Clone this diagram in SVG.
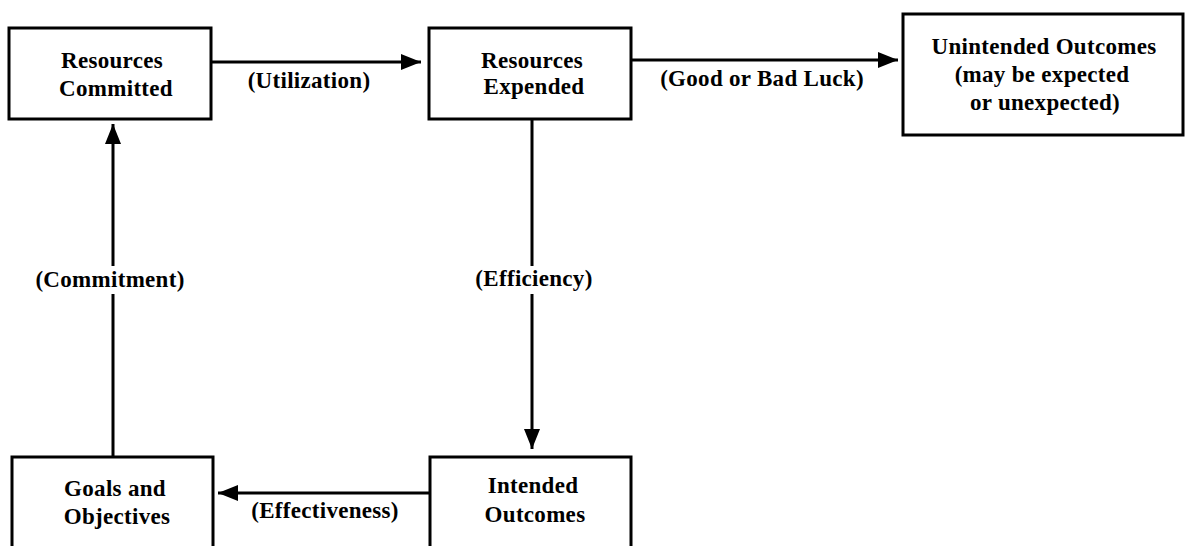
<svg xmlns="http://www.w3.org/2000/svg" width="1188" height="546" viewBox="0 0 1188 546">
<style>
.box{fill:#fff;stroke:#000;stroke-width:3}
.t{font-family:"Liberation Serif","Times New Roman",serif;font-weight:bold;font-size:23px;letter-spacing:0.3px;fill:#000;text-anchor:middle}
.c{stroke:#000;stroke-width:3;fill:none}
.gap{fill:#fff;stroke:none}
</style>
<defs>
<marker id="arr" viewBox="0 0 20 16" refX="20" refY="8" markerWidth="20" markerHeight="16" markerUnits="userSpaceOnUse" orient="auto">
<path d="M0,0 L20,8 L0,16 Z" fill="#000"/>
</marker>
</defs>
<rect width="1188" height="546" fill="#fff"/>
<g id="connectors">
<line class="c" x1="212" y1="62" x2="421" y2="62" marker-end="url(#arr)"/>
<line class="c" x1="632" y1="60" x2="898" y2="60" marker-end="url(#arr)"/>
<line class="c" x1="532" y1="120" x2="532" y2="449" marker-end="url(#arr)"/>
<line class="c" x1="430" y1="493" x2="218" y2="493" marker-end="url(#arr)"/>
<line class="c" x1="113" y1="457" x2="113" y2="124" marker-end="url(#arr)"/>
<rect class="gap" x="470" y="266" width="128" height="28"/>
<rect class="gap" x="30" y="266" width="160" height="28"/>
<text class="t" x="309" y="88">(Utilization)</text>
<text class="t" x="762" y="86">(Good or Bad Luck)</text>
<text class="t" x="534" y="286">(Efficiency)</text>
<text class="t" x="110" y="287">(Commitment)</text>
<text class="t" x="325" y="518">(Effectiveness)</text>
</g>
<g id="n-committed">
<rect class="box" x="9" y="28" width="202" height="91"/>
<text class="t" x="112" y="68">Resources</text>
<text class="t" x="116" y="96">Committed</text>
</g>
<g id="n-expended">
<rect class="box" x="429" y="28" width="202" height="91"/>
<text class="t" x="532" y="68">Resources</text>
<text class="t" x="534" y="94">Expended</text>
</g>
<g id="n-unintended">
<rect class="box" x="903" y="14" width="280" height="121"/>
<text class="t" x="1044" y="54">Unintended Outcomes</text>
<text class="t" x="1042" y="82">(may be expected</text>
<text class="t" x="1045" y="110">or unexpected)</text>
</g>
<g id="n-goals">
<rect class="box" x="12" y="457" width="201" height="100"/>
<text class="t" x="115" y="496">Goals and</text>
<text class="t" x="117" y="524">Objectives</text>
</g>
<g id="n-intended">
<rect class="box" x="430" y="457" width="201" height="100"/>
<text class="t" x="533" y="493">Intended</text>
<text class="t" x="535" y="522">Outcomes</text>
</g>
</svg>
